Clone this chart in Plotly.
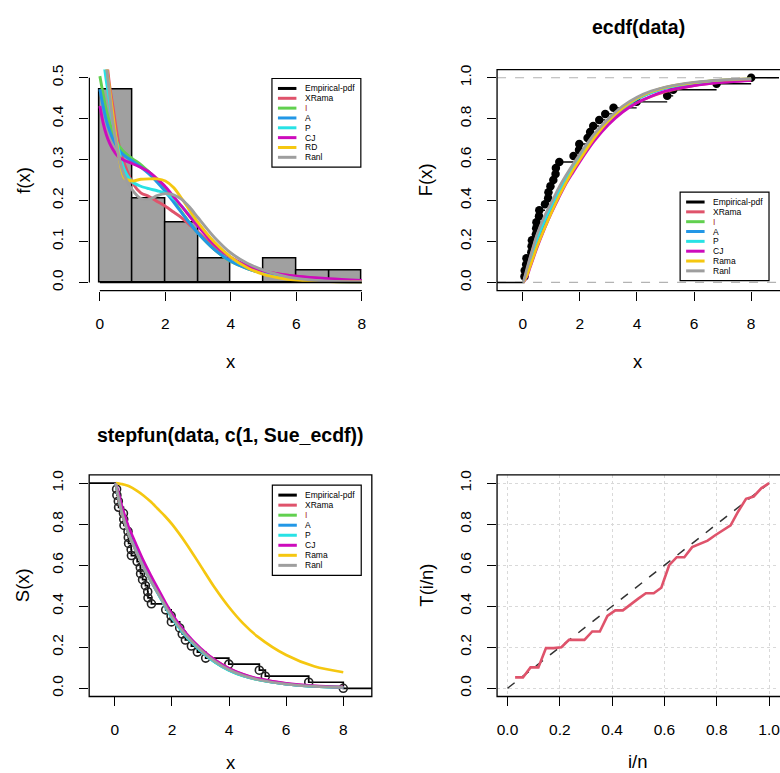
import plotly.graph_objects as go

W, H = 780, 773
FONT = "Liberation Sans, Arial, sans-serif"

# ---------------- data ----------------
data = [0.06, 0.07, 0.12, 0.13, 0.30, 0.31, 0.32, 0.46, 0.47, 0.48, 0.57, 0.58,
        0.78, 0.89, 0.90, 0.97, 1.07, 1.15, 1.16, 1.28, 1.78, 1.97, 1.98, 2.27,
        2.36, 2.47, 2.68, 2.89, 3.18, 3.99, 5.06, 5.27, 6.79, 8.00]

bin_edges = [0, 1, 2, 3, 4, 5, 6, 7, 8]
hist_density = [0.4706, 0.2059, 0.1471, 0.0588, 0.0, 0.0588, 0.0294, 0.0294]

# fitted densities (panel 1)
xs_pdf = [0, 0.1, 0.2, 0.3, 0.4, 0.5, 0.6, 0.75, 1.0, 1.25, 1.5, 1.75, 2.0, 2.25,
          2.5, 2.75, 3.0, 3.5, 4.0, 4.5, 5.0, 5.5, 6.0, 7.0, 8.0]
pdf_xrama = [0.70, 0.62, 0.55, 0.48, 0.43, 0.375, 0.33, 0.29, 0.243, 0.219, 0.21, 0.198, 0.186,
             0.172, 0.158, 0.14, 0.123, 0.087, 0.06, 0.04, 0.028, 0.02, 0.015, 0.007, 0.003]
pdf_i = [0.504, 0.46, 0.42, 0.39, 0.365, 0.345, 0.332, 0.318, 0.302, 0.288, 0.27, 0.25, 0.227,
         0.20, 0.172, 0.145, 0.12, 0.08, 0.051, 0.034, 0.022, 0.014, 0.009, 0.004, 0.002]
pdf_a = [0.472, 0.43, 0.395, 0.37, 0.35, 0.335, 0.322, 0.31, 0.296, 0.282, 0.265, 0.245, 0.222,
         0.196, 0.17, 0.144, 0.12, 0.08, 0.052, 0.034, 0.022, 0.014, 0.009, 0.004, 0.002]
pdf_p = [0.60, 0.55, 0.49, 0.44, 0.39, 0.35, 0.315, 0.275, 0.245, 0.235, 0.229, 0.224, 0.218,
         0.205, 0.186, 0.163, 0.14, 0.095, 0.06, 0.037, 0.022, 0.013, 0.008, 0.003, 0.001]
pdf_cj = [0.431, 0.39, 0.36, 0.34, 0.325, 0.313, 0.305, 0.298, 0.29, 0.281, 0.27, 0.253, 0.234,
          0.21, 0.186, 0.16, 0.137, 0.093, 0.061, 0.041, 0.028, 0.02, 0.015, 0.009, 0.005]
pdf_rd = [0.62, 0.58, 0.53, 0.47, 0.41, 0.35, 0.30, 0.255, 0.248, 0.252, 0.253, 0.253, 0.248,
          0.232, 0.205, 0.175, 0.146, 0.098, 0.062, 0.036, 0.02, 0.011, 0.006, 0.002, 0.001]
pdf_rani = [0.65, 0.60, 0.53, 0.46, 0.39, 0.34, 0.30, 0.26, 0.225, 0.205, 0.203, 0.212, 0.217,
            0.214, 0.203, 0.183, 0.158, 0.11, 0.072, 0.047, 0.03, 0.018, 0.01, 0.003, 0.001]

# fitted CDFs (panel 2)
xs_cdf = [0.02, 0.15, 0.25, 0.4, 0.5, 0.75, 1.0, 1.25, 1.5, 1.75, 2.0, 2.5, 3.0, 3.5,
          4.0, 4.5, 5.0, 6.0, 7.0, 8.0]
cdf_xrama = [0, 0.06, 0.115, 0.185, 0.23, 0.315, 0.385, 0.45, 0.505, 0.555, 0.605, 0.697,
             0.778, 0.838, 0.878, 0.908, 0.932, 0.962, 0.978, 0.988]
cdf_i = [0, 0.05, 0.10, 0.165, 0.21, 0.30, 0.375, 0.445, 0.51, 0.565, 0.615, 0.715, 0.795,
         0.855, 0.90, 0.93, 0.952, 0.975, 0.988, 0.994]
cdf_a = [0, 0.045, 0.093, 0.158, 0.20, 0.29, 0.365, 0.435, 0.50, 0.555, 0.607, 0.708, 0.79,
         0.85, 0.895, 0.927, 0.949, 0.973, 0.986, 0.993]
cdf_p = [0, 0.05, 0.098, 0.165, 0.208, 0.298, 0.372, 0.44, 0.505, 0.56, 0.612, 0.712, 0.792,
         0.852, 0.897, 0.928, 0.95, 0.974, 0.987, 0.993]
cdf_cj = [0, 0.03, 0.07, 0.13, 0.17, 0.258, 0.338, 0.41, 0.478, 0.535, 0.59, 0.69, 0.77,
          0.832, 0.877, 0.91, 0.935, 0.962, 0.977, 0.987]
cdf_rama = [0, 0.035, 0.075, 0.135, 0.175, 0.26, 0.34, 0.415, 0.483, 0.545, 0.60, 0.705,
            0.79, 0.853, 0.90, 0.932, 0.953, 0.976, 0.989, 0.995]
cdf_rani = [0, 0.07, 0.12, 0.19, 0.235, 0.32, 0.39, 0.46, 0.52, 0.575, 0.628, 0.725, 0.80,
            0.862, 0.905, 0.935, 0.955, 0.978, 0.99, 0.995]

# fitted survival curves (panel 3)
xs_s = [0.03, 0.15, 0.25, 0.4, 0.5, 0.75, 1.0, 1.25, 1.5, 1.75, 2.0, 2.5, 3.0, 3.5,
        4.0, 4.5, 5.0, 6.0, 7.0, 8.0]
s_xrama = [1.0, 0.91, 0.85, 0.785, 0.745, 0.665, 0.59, 0.525, 0.465, 0.405, 0.35, 0.262,
           0.193, 0.138, 0.097, 0.067, 0.047, 0.023, 0.011, 0.006]
s_i = [1.0, 0.92, 0.86, 0.79, 0.75, 0.67, 0.595, 0.528, 0.466, 0.404, 0.345, 0.255, 0.185,
       0.128, 0.088, 0.06, 0.042, 0.02, 0.009, 0.004]
s_a = [1.0, 0.925, 0.865, 0.795, 0.755, 0.675, 0.60, 0.533, 0.47, 0.408, 0.348, 0.257,
       0.186, 0.129, 0.089, 0.061, 0.043, 0.02, 0.009, 0.004]
s_p = [1.0, 0.918, 0.857, 0.787, 0.747, 0.667, 0.592, 0.525, 0.463, 0.401, 0.342, 0.252,
       0.183, 0.127, 0.087, 0.06, 0.042, 0.02, 0.009, 0.004]
s_cj = [1.0, 0.94, 0.885, 0.82, 0.78, 0.70, 0.622, 0.553, 0.488, 0.424, 0.362, 0.268, 0.195,
        0.138, 0.097, 0.068, 0.048, 0.024, 0.012, 0.006]
s_rama = [1.0, 0.998, 0.995, 0.99, 0.985, 0.965, 0.94, 0.91, 0.875, 0.84, 0.80, 0.705, 0.598,
          0.49, 0.395, 0.315, 0.252, 0.162, 0.106, 0.078]
s_rani = [1.0, 0.915, 0.855, 0.786, 0.746, 0.666, 0.592, 0.526, 0.466, 0.406, 0.348, 0.258,
          0.188, 0.131, 0.09, 0.062, 0.043, 0.02, 0.009, 0.004]

# TTT plot (panel 4)
ttt_u = [0.029, 0.059, 0.088, 0.118, 0.147, 0.176, 0.206, 0.235, 0.265, 0.294, 0.324, 0.353,
         0.382, 0.412, 0.441, 0.471, 0.500, 0.529, 0.559, 0.588, 0.618, 0.647, 0.676, 0.706,
         0.735, 0.765, 0.794, 0.824, 0.853, 0.882, 0.912, 0.941, 0.971, 1.000]
ttt_t = [0.053, 0.053, 0.102, 0.102, 0.196, 0.196, 0.20, 0.236, 0.236, 0.236, 0.277, 0.277,
         0.353, 0.38, 0.38, 0.41, 0.437, 0.463, 0.463, 0.49, 0.60, 0.639, 0.639, 0.688,
         0.705, 0.72, 0.746, 0.769, 0.794, 0.862, 0.924, 0.935, 0.976, 1.0]

legend_labels_1 = ["Empirical-pdf", "XRama", "I", "A", "P", "CJ", "RD", "Ranl"]
legend_labels_23 = ["Empirical-pdf", "XRama", "I", "A", "P", "CJ", "Rama", "Ranl"]
colors = ["#000000", "#DF536B", "#61D04F", "#2297E6", "#28E2E5", "#CD0BBC", "#F5C710", "#9E9E9E"]

# ---------------- helpers ----------------
def px(x):
    return x / W


def py(y):
    return 1 - y / H


fig = go.Figure()
shapes = []
annotations = []

# panel geometry (pixels)
P1 = dict(x=(89.5, 372.8), y=(65, 287.5))
P2 = dict(x=(497.7, 780.0), y=(65, 287.5))
P3 = dict(x=(89.3, 372.3), y=(473, 696))
P4 = dict(x=(497.7, 780.0), y=(473, 696))

# ---------------- panel 1: histogram + densities ----------------
mids = [(bin_edges[k] + bin_edges[k + 1]) / 2 for k in range(len(hist_density))]
fig.add_trace(go.Bar(x=mids, y=hist_density, width=1, marker=dict(color="#A0A0A0",
                     line=dict(color="black", width=1.5)), xaxis="x", yaxis="y",
                     showlegend=False))
pdf_series = [pdf_xrama, pdf_i, pdf_a, pdf_p, pdf_cj, pdf_rd, pdf_rani]
for ser, col in zip(pdf_series, colors[1:]):
    fig.add_trace(go.Scatter(x=xs_pdf, y=ser, mode="lines", line=dict(color=col, width=2.9,
                             shape="spline", smoothing=0.8), xaxis="x", yaxis="y",
                             showlegend=False))

# ---------------- panel 2: ECDF ----------------
n = len(data)
x2_left, x2_right = -0.9, 9.2
knots = sorted(set(data))
Fk = [sum(1 for d in data if d <= k) / n for k in knots]
ex, ey = [x2_left, knots[0], None], [0, 0, None]
for k in range(len(knots)):
    nxt = knots[k + 1] if k + 1 < len(knots) else x2_right
    ex += [knots[k], nxt, None]
    ey += [Fk[k], Fk[k], None]
fig.add_trace(go.Scatter(x=ex, y=ey, mode="lines", line=dict(color="black", width=1.4),
                         xaxis="x2", yaxis="y2", showlegend=False))
fig.add_trace(go.Scatter(x=knots, y=Fk, mode="markers",
                         marker=dict(color="black", size=8.5), xaxis="x2", yaxis="y2",
                         showlegend=False))
cdf_series = [cdf_xrama, cdf_i, cdf_a, cdf_p, cdf_cj, cdf_rama, cdf_rani]
for ser, col in zip(cdf_series, colors[1:]):
    fig.add_trace(go.Scatter(x=xs_cdf, y=ser, mode="lines", line=dict(color=col, width=2.7,
                             shape="spline", smoothing=0.8), xaxis="x2", yaxis="y2",
                             showlegend=False))

# ---------------- panel 3: survival step function ----------------
Sk = [1 - f for f in Fk]
fig.add_trace(go.Scatter(x=[x2_left] + knots + [x2_right], y=[1.0] + Sk + [Sk[-1]],
                         mode="lines", line=dict(color="black", width=1.7, shape="hv"),
                         xaxis="x3", yaxis="y3", showlegend=False))
fig.add_trace(go.Scatter(x=knots, y=Sk, mode="markers",
                         marker=dict(symbol="circle-open", color="#222222", size=8,
                                     line=dict(width=1.6)),
                         xaxis="x3", yaxis="y3", showlegend=False))
s_series = [s_xrama, s_i, s_a, s_p, s_cj, s_rama, s_rani]
for ser, col in zip(s_series, colors[1:]):
    fig.add_trace(go.Scatter(x=xs_s, y=ser, mode="lines", line=dict(color=col, width=2.7,
                             shape="spline", smoothing=0.8), xaxis="x3", yaxis="y3",
                             showlegend=False))

# ---------------- panel 4: TTT ----------------
fig.add_trace(go.Scatter(x=[0, 1], y=[0, 1], mode="lines",
                         line=dict(color="#333333", width=1.5, dash="dash"),
                         xaxis="x4", yaxis="y4", showlegend=False))
fig.add_trace(go.Scatter(x=ttt_u, y=ttt_t, mode="lines", line=dict(color="#DF536B", width=2.6),
                         xaxis="x4", yaxis="y4", showlegend=False))

# ---------------- axes ----------------
tickfont = dict(size=15.5, family=FONT, color="black")


def axis(dom, rng, tickvals, fmt=None, angle=None, **kw):
    d = dict(domain=dom, range=rng, tickvals=tickvals, showline=False, zeroline=False,
             showgrid=False, ticks="outside", ticklen=9, tickwidth=1.2, tickcolor="black",
             tickfont=tickfont, ticklabelstandoff=10, ticklabeloverflow="allow")
    if fmt:
        d["tickformat"] = fmt
    if angle is not None:
        d["tickangle"] = angle
    d.update(kw)
    return d


def xdom(P):
    return [px(P["x"][0]), min(1.0, px(P["x"][1]))]


def ydom(P):
    return [py(P["y"][1]), py(P["y"][0])]


unit = [0, 0.2, 0.4, 0.6, 0.8, 1.0]
fig.update_layout(
    xaxis=axis(xdom(P1), [-0.32, 8.32], [0, 2, 4, 6, 8], anchor="y"),
    yaxis=axis(ydom(P1), [-0.02, 0.52], [0, 0.1, 0.2, 0.3, 0.4, 0.5], ".1f", -90, anchor="x"),
    xaxis2=axis(xdom(P2), [-0.9, 8.976], [0, 2, 4, 6, 8], anchor="y2"),
    yaxis2=axis(ydom(P2), [-0.04, 1.04], unit, ".1f", -90, anchor="x2"),
    xaxis3=axis(xdom(P3), [-0.9, 9.0], [0, 2, 4, 6, 8], anchor="y3"),
    yaxis3=axis(ydom(P3), [-0.04, 1.04], unit, ".1f", -90, anchor="x3"),
    xaxis4=axis(xdom(P4), [-0.04, 1.038], unit, ".1f", anchor="y4", showgrid=True,
                gridcolor="#D9D9D9", griddash="dot", gridwidth=1),
    yaxis4=axis(ydom(P4), [-0.04, 1.04], unit, ".1f", -90, anchor="x4", showgrid=True,
                gridcolor="#D9D9D9", griddash="dot", gridwidth=1),
)

# panel 1 R-style axis lines
shapes.append(dict(type="line", xref="x", yref="paper", x0=0, x1=8, y0=py(P1["y"][1]),
                   y1=py(P1["y"][1]), line=dict(color="black", width=1.2)))
shapes.append(dict(type="line", xref="paper", yref="y", x0=px(P1["x"][0]), x1=px(P1["x"][0]),
                   y0=0, y1=0.5, line=dict(color="black", width=1.2)))
shapes.append(dict(type="line", xref="x", yref="y", x0=0, x1=8, y0=0, y1=0,
                   line=dict(color="black", width=1.5)))

# dashed grey lines in ECDF panel
for h in (0, 1):
    shapes.append(dict(type="line", xref="paper", yref="y2", x0=px(P2["x"][0]), x1=1.0,
                       y0=h, y1=h, line=dict(color="#B3B3B3", width=1.2, dash="dash"),
                       layer="below"))

# boxes
for P in (P2, P3, P4):
    shapes.append(dict(type="rect", xref="paper", yref="paper", x0=px(P["x"][0]),
                       x1=px(P["x"][1] + (3 if P["x"][1] >= 779 else 0)),
                       y0=py(P["y"][1]), y1=py(P["y"][0]),
                       line=dict(color="black", width=1.3), fillcolor="rgba(0,0,0,0)"))


# ---------------- legends ----------------
def legend(x0, y0, labels, row_h):
    bw, bh = 89, row_h * 8 + 10
    shapes.append(dict(type="rect", xref="paper", yref="paper", x0=px(x0), x1=px(x0 + bw),
                       y0=py(y0 + bh), y1=py(y0), line=dict(color="black", width=1.2),
                       fillcolor="white"))
    for k, (lab, col) in enumerate(zip(labels, colors)):
        yy = y0 + 10 + k * row_h
        shapes.append(dict(type="line", xref="paper", yref="paper", x0=px(x0 + 6),
                           x1=px(x0 + 24.5), y0=py(yy), y1=py(yy),
                           line=dict(color=col, width=3)))
        annotations.append(dict(text=lab, xref="paper", yref="paper", x=px(x0 + 31),
                                y=py(yy), xanchor="left", yanchor="middle", showarrow=False,
                                font=dict(size=8.5, family=FONT,
                                          color="#A52A2A" if lab == "I" else "black")))


legend(272.3, 74, legend_labels_1, 9.9)
legend(681, 188.3, legend_labels_23, 9.9)
legend(272.7, 483.3, legend_labels_23, 10.1)


# ---------------- titles / labels ----------------
def text(s, x, y, size, angle=0, bold=False):
    annotations.append(dict(text=("<b>%s</b>" % s) if bold else s, xref="paper", yref="paper",
                            x=px(x), y=py(y), xanchor="center", yanchor="middle",
                            showarrow=False, textangle=angle,
                            font=dict(size=size, family=FONT, color="black")))


text("f(x)", 24, 176, 18.5, -90)
text("x", 231, 359, 18.5)
text("F(x)", 426, 176, 18.5, -90)
text("x", 639, 359, 18.5)
text("ecdf(data)", 639, 22, 19.5, bold=True)
text("stepfun(data, c(1, Sue_ecdf))", 231, 433, 19.5, bold=True)
text("S(x)", 22, 584, 18.5, -90)
text("x", 231, 762, 18.5)
text("T(i/n)", 427, 584, 18.5, -90)
text("i/n", 639, 761, 18.5)

fig.update_layout(width=W, height=H, margin=dict(l=0, r=0, t=0, b=0),
                  paper_bgcolor="white", plot_bgcolor="rgba(0,0,0,0)",
                  bargap=0, shapes=shapes, annotations=annotations, showlegend=False)

fig.write_html("out.html")
